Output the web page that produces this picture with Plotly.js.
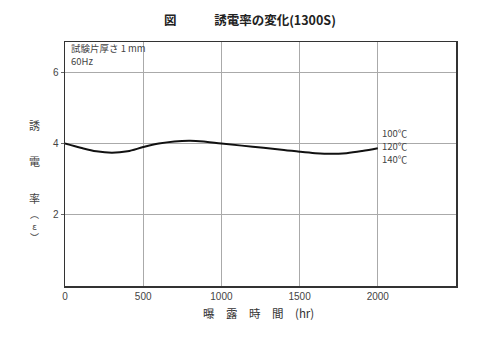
<!DOCTYPE html>
<html>
<head>
<meta charset="utf-8">
<script src="https://cdn.plot.ly/plotly-3.0.1.min.js"></script>
<style>html,body{margin:0;padding:0;background:#fff;}#chart{width:500px;height:340px;}</style>
</head>
<body>
<div id="chart"></div>
<script>
// Exposure time (hr)
const hours = [0, 100, 200, 300, 400, 500, 600, 700, 800, 900, 1000, 1200, 1400, 1500, 1600, 1700, 1800, 1900, 2000];
// Dielectric constant (ε)
const permittivity = [4.0, 3.88, 3.78, 3.74, 3.78, 3.90, 4.0, 4.06, 4.08, 4.05, 4.0, 3.91, 3.82, 3.77, 3.73, 3.71, 3.73, 3.79, 3.87];
const xTickVals = [0, 500, 1000, 1500, 2000];
const xTickText = ['0', '500', '1000', '1500', '2000'];
const yTickVals = [2, 4, 6];
const yTickText = ['2', '4', '6'];
const tempLabels = ['100℃', '120℃', '140℃'];
const yTitleChars = ['誘', '電', '率', '︵<br>ε<br>︶'];
const noteLines = ['試験片厚さ 1 mm', '60Hz'];

const font = 'Noto Sans CJK JP, Noto Sans, sans-serif';

const trace = {
  x: hours, y: permittivity, type: 'scatter', mode: 'lines',
  line: {color: '#111', width: 2, shape: 'spline', smoothing: 1},
  hoverinfo: 'skip', showlegend: false
};

const annotations = [];
// note text top-left
const noteY = [48, 61];
noteLines.forEach((t, i) => annotations.push({xref: 'paper', yref: 'paper', x: 0.01,
  y: (286 - noteY[i]) / 244, xanchor: 'left', yanchor: 'middle',
  text: t, showarrow: false, font: {family: font, size: 9.5, color: '#444'}}));
// temperature labels
const tempY = [0.626, 0.574, 0.521];
tempLabels.forEach((t, i) => annotations.push({xref: 'paper', yref: 'paper', x: 0.806, y: tempY[i],
  xanchor: 'left', yanchor: 'middle', text: t, showarrow: false,
  font: {family: font, size: 9.5, color: '#444'}}));
// vertical y-axis title
const charY = [125, 161, 198, 226];
yTitleChars.forEach((c, i) => annotations.push({xref: 'paper', yref: 'paper', x: -0.077,
  y: (286 - charY[i]) / 244, xanchor: 'center', yanchor: 'middle', text: c, showarrow: false,
  font: {family: font, size: i === 3 ? 9 : 11, color: '#444'}}));
// x axis title
annotations.push({xref: 'paper', yref: 'paper', x: 0.495, y: -(313 - 286) / 244, xanchor: 'center', yanchor: 'middle',
  text: '曝　露　時　間　(hr)', showarrow: false, font: {family: font, size: 11.5, color: '#333'}});

const layout = {
  width: 500, height: 340,
  margin: {l: 65, r: 44, t: 42, b: 54},
  paper_bgcolor: '#fff', plot_bgcolor: '#fff',
  title: {text: '<b>図</b>　　　<b>誘電率の変化(1300S)</b>', x: 0.5, xanchor: 'center', y: 0.94, yanchor: 'middle',
    font: {family: font, size: 12.5, color: '#222'}},
  xaxis: {range: [0, 2500], tickvals: xTickVals, ticktext: xTickText, showgrid: true,
    gridcolor: '#aaa', gridwidth: 1, zeroline: false, showline: true, linecolor: '#333', linewidth: 1.5,
    mirror: true, ticks: '', tickfont: {family: 'Liberation Sans, sans-serif', size: 10, color: '#444'}},
  yaxis: {range: [0, 6.85], tickvals: yTickVals, ticktext: yTickText, showgrid: true,
    gridcolor: '#aaa', gridwidth: 1, zeroline: false, showline: true, linecolor: '#333', linewidth: 1.5,
    mirror: true, ticks: 'outside', ticklen: 3, tickcolor: '#666',
    tickfont: {family: 'Liberation Sans, sans-serif', size: 10, color: '#444'}},
  annotations: annotations
};

Plotly.newPlot('chart', [trace], layout, {staticPlot: true, displayModeBar: false});
</script>
</body>
</html>
